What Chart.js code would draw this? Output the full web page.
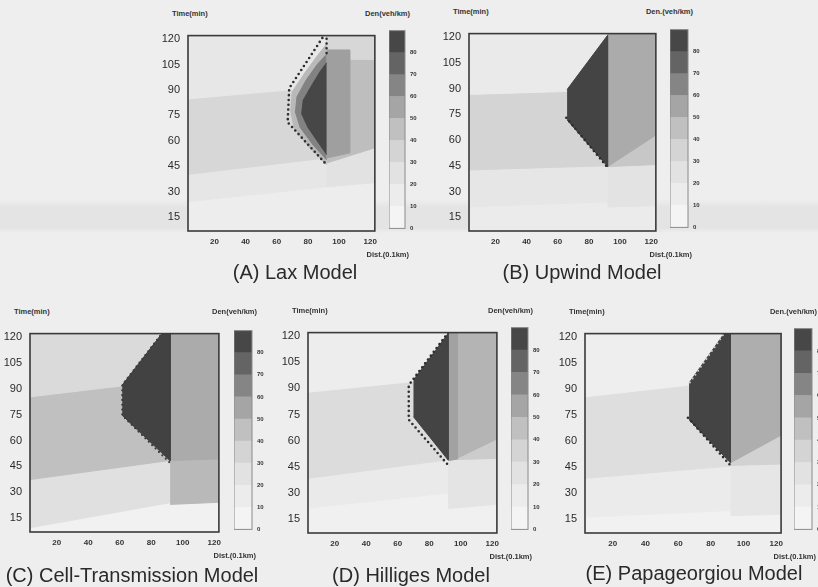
<!DOCTYPE html>
<html>
<head>
<meta charset="utf-8">
<script src="https://cdn.jsdelivr.net/npm/chart.js@4.4.0/dist/chart.umd.min.js"></script>
<style>
  html, body { margin: 0; padding: 0; background: #eeeeee; }
  #page { position: relative; width: 818px; height: 587px; overflow: hidden; background: #eeeeee;
          font-family: 'Liberation Sans', Arial, sans-serif; color: #2b2b2b; }
  canvas { position: absolute; }
  .tiny { position: absolute; font: bold 7.5px 'Liberation Sans Narrow', 'Liberation Sans', sans-serif;
          line-height: 8px; white-space: nowrap; color: #333; }
  .cap { position: absolute; font-size: 20px; line-height: 20px; white-space: nowrap;
         transform: translateX(-50%); color: #2a2a2a; }
  #scan { position: absolute; left: 0; top: 199px; width: 818px; height: 34px; pointer-events: none;
          background: linear-gradient(to bottom, rgba(0,0,0,0) 0%, rgba(0,0,0,0.045) 25%,
                      rgba(0,0,0,0.045) 85%, rgba(0,0,0,0) 100%); }
</style>
</head>
<body>
<div id="page"><div id="scan"></div></div>
<script>
// axes
const xTicks = [20, 40, 60, 80, 100, 120];          // Dist.(0.1km)
const yTicks = [15, 30, 45, 60, 75, 90, 105, 120];  // Time(min)
const denTicks = [0, 10, 20, 30, 40, 50, 60, 70, 80];
const denEdges = [0, 10, 20, 30, 40, 50, 60, 70, 80, 90];

// density regions, corners as [dist, time], listed bottom layer first
const full = [[0, 0], [130, 0], [130, 130], [0, 130]];

// (A) Lax
const laxLow = [[0, 24], [92, 33], [92, 130], [0, 130]];
const laxMid = [[0, 40], [92, 50], [92, 130], [0, 130]];
const laxTop = [[0, 84.5], [92, 92], [92, 130], [0, 130]];
const laxRightLow = [[92, 33], [130, 36], [130, 130], [92, 130]];
const laxRightMid = [[92, 47], [130, 58], [130, 130], [92, 130]];
const laxRightTop = [[92, 114], [107, 114], [107, 108], [130, 108], [130, 130], [92, 130]];
const laxRightCore = [[92, 50], [107, 53], [107, 113.5], [92, 113.5]];
const laxHalo = [[92, 46], [80, 57], [71, 68], [69, 78], [70, 89], [78, 100], [86, 110], [92, 117]];
const laxShoulder = [[92, 49], [83, 58], [75, 68], [72, 77], [73, 86], [79, 96], [86, 105], [92, 111]];
const laxCore = [[92, 52], [86, 60], [80, 68], [76, 76], [77, 84], [82, 92], [88, 101], [92, 106]];
const laxFront = [[91, 123], [68, 91], [67, 71], [92, 46]];
const laxStub = [[92, 123], [92, 110]];

// (B) Upwind
const upLow = [[0, 21], [92, 24], [92, 130], [0, 130]];
const upMid = [[0, 42.5], [92, 45], [92, 130], [0, 130]];
const upTop = [[0, 86.5], [92, 89], [92, 130], [0, 130]];
const upRightLow = [[92, 21], [130, 22], [130, 130], [92, 130]];
const upRightMid = [[92, 44.5], [130, 46], [130, 130], [92, 130]];
const upRightHigh = [[92, 44.5], [130, 67], [130, 130], [92, 130]];
const upJam = [[66, 89.4], [92, 121], [92, 44.6], [66, 71.7]];
const upFront = [[65.5, 73], [92, 44]];

// (C) Cell-Transmission
const ctmLow = [[0, 9], [92, 24], [92, 130], [0, 130]];
const ctmMid = [[0, 37], [92, 48.5], [92, 130], [0, 130]];
const ctmTop = [[0, 85], [92, 95], [92, 130], [0, 130]];
const ctmRightLow = [[92, 23], [130, 24.5], [130, 130], [92, 130]];
const ctmRightHigh = [[92, 48.5], [130, 49.5], [130, 130], [92, 130]];
const ctmJam = [[61.6, 92.2], [89.3, 125], [92, 125], [92, 48.3], [61.6, 74.6]];
const ctmEdge = [[89.3, 125], [61.6, 92.2], [61.6, 74.6], [92, 47]];

// (D) Hilliges
const hilLow = [[0, 21], [92, 30], [92, 130], [0, 130]];
const hilMid = [[0, 38], [92, 49], [92, 130], [0, 130]];
const hilTop = [[0, 87.5], [92, 96], [92, 130], [0, 130]];
const hilRightLow = [[92, 21], [130, 24], [130, 130], [92, 130]];
const hilRightMid = [[92, 49], [130, 50], [130, 130], [92, 130]];
const hilRightHigh = [[92, 49], [98, 50], [130, 64], [130, 130], [92, 130]];
const hilStrip = [[92, 48.5], [98, 49.5], [98, 130], [92, 130]];
const hilJam = [[70, 94.8], [92, 121.5], [92, 48.9], [70, 73.7]];
const hilFront = [[92, 122], [68, 93], [67, 91], [67, 72], [92, 46]];

// (E) Papageorgiou
const papLow = [[0, 16], [92, 20], [92, 130], [0, 130]];
const papMid = [[0, 38.3], [92, 45.6], [92, 130], [0, 130]];
const papTop = [[0, 85.2], [92, 95], [92, 130], [0, 130]];
const papRightLow = [[92, 17], [130, 18], [130, 130], [92, 130]];
const papRightMid = [[92, 46], [130, 47], [130, 130], [92, 130]];
const papRightHigh = [[92, 47.5], [130, 67], [130, 130], [92, 130]];
const papJam = [[66.7, 93.5], [90, 124.5], [92, 124.5], [92, 47.5], [66.7, 72.3]];
const papFront = [[66, 73.5], [92, 46]];
const papFrontUpper = [[87.4, 121], [67, 93.5]];

// density (veh/km) of each region
const laxRegions = [[full, 14], [laxLow, 22], [laxMid, 33], [laxTop, 21], [laxRightLow, 25],
  [laxRightMid, 46], [laxRightTop, 33], [laxRightCore, 57], [laxHalo, 48], [laxShoulder, 66], [laxCore, 85]];
const upRegions = [[full, 16], [upLow, 22], [upMid, 35], [upTop, 17], [upRightLow, 24],
  [upRightMid, 42], [upRightHigh, 53], [upJam, 86]];
const ctmRegions = [[full, 8], [ctmLow, 27], [ctmMid, 45], [ctmTop, 31], [ctmRightLow, 48],
  [ctmRightHigh, 53], [ctmJam, 87]];
const hilRegions = [[full, 10], [hilLow, 17], [hilMid, 30], [hilTop, 14], [hilRightLow, 23],
  [hilRightMid, 40], [hilRightHigh, 50], [hilStrip, 56], [hilJam, 86]];
const papRegions = [[full, 9], [papLow, 16], [papMid, 28], [papTop, 13], [papRightLow, 22],
  [papRightMid, 36], [papRightHigh, 52], [papJam, 86]];

// grey ramp for density
const stops = [[0, 247], [10, 240], [20, 232], [30, 220], [40, 204], [50, 180], [60, 150], [70, 116], [80, 84], [90, 58]];
function shade(d) {
  for (let i = 1; i < stops.length; i++) {
    if (d <= stops[i][0]) {
      const [d0, g0] = stops[i - 1], [d1, g1] = stops[i];
      const g = Math.round(g0 + (g1 - g0) * (d - d0) / (d1 - d0));
      return `rgb(${g},${g},${g})`;
    }
  }
  return 'rgb(58,58,58)';
}

const dark = '#2d2d2d';
const panels = [
  { cap: '(A) Lax Model', capX: 295, capY: 279, plot: [188, 27, 377, 231], bar: [389, 27, 405, 232],
    den: 'Den(veh/km)', regions: laxRegions, fronts: [[laxFront, dark, 2.6], [laxStub, dark, 2.6]] },
  { cap: '(B) Upwind Model', capX: 582, capY: 279, plot: [469, 25, 658, 231], bar: [670, 26, 688, 231],
    den: 'Den.(veh/km)', regions: upRegions, fronts: [[upFront, dark, 2.6]] },
  { cap: '(C) Cell-Transmission Model', capX: 132, capY: 582, plot: [30, 325, 221, 532], bar: [234, 327, 252, 533],
    den: 'Den(veh/km)', regions: ctmRegions, fronts: [[ctmEdge, '#3a3a3a', 2.2]] },
  { cap: '(D) Hilliges Model', capX: 411, capY: 582, plot: [308, 324, 499, 533], bar: [511, 324, 528, 533],
    den: 'Den(veh/km)', regions: hilRegions, fronts: [[hilFront, dark, 2.6]] },
  { cap: '(E) Papageorgiou Model', capX: 694, capY: 580, plot: [585, 325, 783, 533], bar: [794, 325, 812, 533],
    den: 'Den.(veh/km)', regions: papRegions, fronts: [[papFront, dark, 2.6], [papFrontUpper, '#cfcfcf', 2]] }
];

const page = document.getElementById('page');
const narrow = "'Liberation Sans Narrow', 'Liberation Sans', sans-serif";

const boxPlugin = {
  id: 'box',
  afterDatasetsDraw(chart, args, opts) {
    const { ctx, chartArea: a } = chart;
    ctx.save();
    ctx.strokeStyle = opts.color;
    ctx.lineWidth = opts.width;
    ctx.strokeRect(a.left, a.top, a.right - a.left, a.bottom - a.top);
    ctx.restore();
  }
};

function makeCanvas(left, top, w, h) {
  const c = document.createElement('canvas');
  c.width = w; c.height = h;
  c.style.left = left + 'px'; c.style.top = top + 'px';
  c.style.width = w + 'px'; c.style.height = h + 'px';
  page.appendChild(c);
  return c;
}

function addText(cls, text, left, top, alignRight) {
  const el = document.createElement('div');
  el.className = cls;
  el.textContent = text;
  el.style.left = left + 'px';
  el.style.top = top + 'px';
  if (alignRight) el.style.transform = 'translateX(-100%)';
  page.appendChild(el);
}

const toPts = arr => arr.map(([x, y]) => ({ x, y }));
const PADT = 6, PADR = 6, YW = 30, XH = 20;

panels.forEach(p => {
  const [L, T, R, B] = p.plot;
  const cv = makeCanvas(L - YW, T - PADT, (R - L) + YW + PADR, (B - T) + PADT + XH);
  const datasets = p.regions.map(([poly, d], i) => ({
    data: toPts(poly), fill: 'shape', backgroundColor: shade(d), borderColor: shade(d),
    borderWidth: 1, pointRadius: 0, tension: 0, order: 1000 - i
  }));
  p.fronts.forEach(([line, col, w]) => datasets.push({
    data: toPts(line), fill: false, borderColor: col, borderWidth: w, borderDash: [0, 4.8],
    borderCapStyle: 'round', pointRadius: 0, tension: 0, order: -1
  }));
  new Chart(cv, {
    type: 'line',
    data: { datasets },
    options: {
      responsive: false, animation: false, events: [], devicePixelRatio: 1,
      layout: { padding: { top: PADT, right: PADR, left: 0, bottom: 0 }, autoPadding: false },
      plugins: { legend: { display: false }, tooltip: { enabled: false }, box: { color: '#3a3a3a', width: 1.6 } },
      scales: {
        x: {
          type: 'linear', min: 3, max: 123,
          grid: { display: false, drawTicks: false }, border: { display: false },
          afterBuildTicks: s => { s.ticks = xTicks.map(v => ({ value: v })); },
          afterFit: s => { s.height = XH; },
          ticks: { autoSkip: false, maxRotation: 0, padding: 6, color: '#333',
                   font: { family: narrow, size: 8, weight: 'bold' } }
        },
        y: {
          type: 'linear', min: 7, max: 122,
          grid: { display: false, drawTicks: false }, border: { display: false },
          afterBuildTicks: s => { s.ticks = yTicks.map(v => ({ value: v })); },
          afterFit: s => { s.width = YW; },
          ticks: { autoSkip: false, padding: 8, color: '#2b2b2b',
                   font: { family: narrow, size: 11 } }
        }
      }
    },
    plugins: [boxPlugin]
  });

  // colour bar
  const [bl, bt, br, bb] = p.bar;
  const BW = 16, BP = 5;
  const cb = makeCanvas(bl, bt - BP, (br - bl) + BW, (bb - bt) + 2 * BP);
  new Chart(cb, {
    type: 'bar',
    data: {
      labels: [''],
      datasets: denEdges.slice(0, -1).map((lo, i) => ({
        data: [[lo, denEdges[i + 1]]], backgroundColor: shade((lo + denEdges[i + 1]) / 2),
        borderWidth: 0, barPercentage: 1, categoryPercentage: 1, grouped: false
      }))
    },
    options: {
      responsive: false, animation: false, events: [], devicePixelRatio: 1,
      layout: { padding: { top: BP, bottom: BP, left: 0, right: 0 }, autoPadding: false },
      plugins: { legend: { display: false }, tooltip: { enabled: false }, box: { color: '#8a8a8a', width: 1 } },
      scales: {
        x: { display: false },
        y: {
          position: 'right', min: 0, max: 90,
          grid: { display: false, drawTicks: false }, border: { display: false },
          afterBuildTicks: s => { s.ticks = denTicks.map(v => ({ value: v })); },
          afterFit: s => { s.width = BW; },
          ticks: { autoSkip: false, padding: 5, color: '#333', font: { family: narrow, size: 6, weight: 'bold' } }
        }
      }
    },
    plugins: [boxPlugin]
  });

  addText('tiny', 'Time(min)', L - 16, T - 17);
  addText('tiny', p.den, br + 5, T - 17, true);
  addText('tiny', 'Dist.(0.1km)', br + 4, B + 20, true);
  const c = document.createElement('div');
  c.className = 'cap';
  c.textContent = p.cap;
  c.style.left = p.capX + 'px';
  c.style.top = (p.capY - 17) + 'px';
  page.appendChild(c);
});
</script>
</body>
</html>
